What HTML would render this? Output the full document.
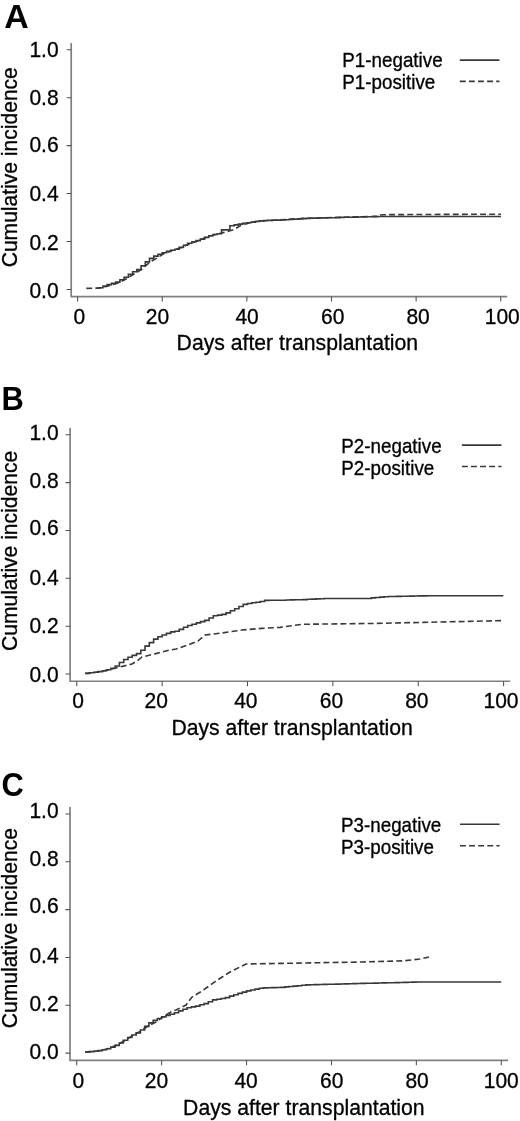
<!DOCTYPE html>
<html lang="en">
<head>
<meta charset="utf-8">
<title>Cumulative incidence</title>
<style>
html,body{margin:0;padding:0;background:#fff;}
body{width:520px;height:1121px;overflow:hidden;}
svg{display:block;}
text{font-family:"Liberation Sans",sans-serif;fill:#000;stroke:#000;stroke-width:0.3px;}
.pl{font-size:32px;font-weight:bold;fill:#000;stroke:none;}
.t{font-size:21px;}
.lg{font-size:18.8px;}
.ax{fill:none;stroke:#808080;stroke-width:1.7;}
.tk{fill:none;stroke:#505050;stroke-width:1.05;}
.cv{fill:none;stroke:#383838;stroke-width:1.6;stroke-linejoin:miter;}
.ds{stroke-dasharray:5.9 3.2;}
</style>
</head>
<body>
<svg width="520" height="1121" viewBox="0 0 520 1121">
<rect width="520" height="1121" fill="#fff"/>
<text transform="translate(4.20 28.10) scale(1.060 1.042)" class="pl">A</text>
<path d="M71.20 43.10V296.60H507.20" class="ax"/>
<path d="M71.20 49.75h-4.6M77.60 296.60v4.9M71.20 97.68h-4.6M162.23 296.60v4.9M71.20 145.61h-4.6M246.86 296.60v4.9M71.20 193.54h-4.6M331.49 296.60v4.9M71.20 241.47h-4.6M416.12 296.60v4.9M71.20 289.40h-4.6M500.75 296.60v4.9" class="tk"/>
<text transform="translate(58.60 56.70) scale(1.000 1.042)" class="t" text-anchor="end">1.0</text>
<text transform="translate(58.60 104.70) scale(1.000 1.042)" class="t" text-anchor="end">0.8</text>
<text transform="translate(58.60 151.70) scale(1.000 1.042)" class="t" text-anchor="end">0.6</text>
<text transform="translate(58.60 201.40) scale(1.000 1.042)" class="t" text-anchor="end">0.4</text>
<text transform="translate(58.60 249.60) scale(1.000 1.042)" class="t" text-anchor="end">0.2</text>
<text transform="translate(58.60 298.00) scale(1.000 1.042)" class="t" text-anchor="end">0.0</text>
<text transform="translate(79.25 323.90) scale(1.000 1.042)" class="t" text-anchor="middle">0</text>
<text transform="translate(157.50 323.90) scale(1.000 1.042)" class="t" text-anchor="middle">20</text>
<text transform="translate(247.10 323.90) scale(1.000 1.042)" class="t" text-anchor="middle">40</text>
<text transform="translate(332.75 323.90) scale(1.000 1.042)" class="t" text-anchor="middle">60</text>
<text transform="translate(418.10 323.90) scale(1.000 1.042)" class="t" text-anchor="middle">80</text>
<text transform="translate(502.25 323.90) scale(1.000 1.042)" class="t" text-anchor="middle">100</text>
<text transform="translate(176.60 349.70) scale(1.010 1.042)" class="t">Days after transplantation</text>
<text transform="translate(16.90 267.30) rotate(-90) scale(1.003 1.042)" class="t">Cumulative incidence</text>
<text transform="translate(342.30 66.85) scale(1.000 1.042)" class="lg">P1-negative</text>
<text transform="translate(342.30 89.15) scale(1.000 1.042)" class="lg">P1-positive</text>
<path d="M459.8 60.10h39.6" class="cv"/>
<path d="M459.8 81.40h39.6" class="cv ds"/>
<path d="M97.0 288.3H98.8V287.7H103.0V286.1H107.2V284.6H111.5V283.4H115.7V282.1H119.9V279.8H124.1V277.2H128.4V274.2H132.6V271.7H136.8V269.6H141.1V265.9H145.3V261.9H149.5V258.4H153.8V256.1H158.0V254.3H162.2V252.7H166.5V251.4H170.7V250.3H174.9V249.3H179.2V247.4H183.4V245.3H187.6V243.2H191.9V241.8H196.1V240.6H200.3V239.1H204.5V237.4H208.8V235.8H213.0V234.5H217.2V233.8H221.5V229.9H225.7H229.9V225.8H234.2V224.9H238.4V224.1H242.6V223.4H246.9V222.7H251.1V222.1H255.3V221.5H259.6V220.9H263.8V220.5H268.0V220.4H272.2V220.3H276.5V220.1H280.7V220.0H284.9V219.7H289.2V219.4H293.4V219.2H297.6V218.9H301.9V218.6H306.1V218.4H310.3V218.2H314.6V218.1H318.8V218.0H323.0V217.9H327.3V217.8H331.5V217.7H335.7V217.6H340.0V217.4H344.2V217.3H348.4V217.2H352.6V217.1H356.9V217.0H361.1V216.9H365.3V216.8H369.6V216.7H373.8V216.6H378.0V216.5H382.3H386.5H390.7H395.0H399.2H403.4H407.7H411.9H416.1H420.4H424.6H428.8H433.0H437.3H441.5H445.7H450.0H454.2H458.4H462.7H466.9H471.1H475.4H479.6H483.8H488.1H492.3H496.5H501.0" class="cv"/>
<path d="M86.3 288.4L100.0 288.0L108.0 286.0L118.0 283.0L126.0 279.0L134.0 274.0L142.0 269.0L150.0 262.0L157.0 258.0L164.0 253.5L172.0 250.5L180.0 248.0L190.0 243.5L200.0 240.0L204.0 238.3L215.0 234.6L224.0 232.4L233.5 229.8L241.0 225.2L248.0 223.2L256.0 221.5L270.0 220.4L307.0 218.2L376.0 216.4L382.0 214.7L440.0 214.4L501.0 214.2" class="cv ds"/>
<text transform="translate(1.50 409.50) scale(0.965 1.042)" class="pl">B</text>
<path d="M70.10 428.00V681.25H510.30" class="ax"/>
<path d="M70.10 434.75h-4.6M76.75 681.25v4.9M70.10 482.60h-4.6M162.12 681.25v4.9M70.10 530.45h-4.6M247.49 681.25v4.9M70.10 578.30h-4.6M332.86 681.25v4.9M70.10 626.15h-4.6M418.23 681.25v4.9M70.10 674.00h-4.6M503.60 681.25v4.9" class="tk"/>
<text transform="translate(58.60 440.40) scale(1.000 1.042)" class="t" text-anchor="end">1.0</text>
<text transform="translate(58.60 488.40) scale(1.000 1.042)" class="t" text-anchor="end">0.8</text>
<text transform="translate(58.60 535.40) scale(1.000 1.042)" class="t" text-anchor="end">0.6</text>
<text transform="translate(58.60 585.10) scale(1.000 1.042)" class="t" text-anchor="end">0.4</text>
<text transform="translate(58.60 633.30) scale(1.000 1.042)" class="t" text-anchor="end">0.2</text>
<text transform="translate(58.60 681.70) scale(1.000 1.042)" class="t" text-anchor="end">0.0</text>
<text transform="translate(78.00 707.90) scale(1.000 1.042)" class="t" text-anchor="middle">0</text>
<text transform="translate(156.25 707.90) scale(1.000 1.042)" class="t" text-anchor="middle">20</text>
<text transform="translate(245.85 707.90) scale(1.000 1.042)" class="t" text-anchor="middle">40</text>
<text transform="translate(331.50 707.90) scale(1.000 1.042)" class="t" text-anchor="middle">60</text>
<text transform="translate(416.85 707.90) scale(1.000 1.042)" class="t" text-anchor="middle">80</text>
<text transform="translate(501.00 707.90) scale(1.000 1.042)" class="t" text-anchor="middle">100</text>
<text transform="translate(171.40 735.00) scale(1.010 1.042)" class="t">Days after transplantation</text>
<text transform="translate(16.90 651.00) rotate(-90) scale(1.003 1.042)" class="t">Cumulative incidence</text>
<text transform="translate(341.30 452.80) scale(1.000 1.042)" class="lg">P2-negative</text>
<text transform="translate(341.30 475.00) scale(1.000 1.042)" class="lg">P2-positive</text>
<path d="M461.9 445.10h39.6" class="cv"/>
<path d="M461.9 466.50h39.6" class="cv ds"/>
<path d="M85.0 673.4H89.6V672.8H93.8V672.3H98.1V671.6H102.4V670.7H106.6V669.8H110.9V668.2H115.2V666.0H119.4V662.5H123.7V659.5H128.0V657.2H132.2V655.4H136.5V653.6H140.8V650.2H145.0V646.1H149.3V642.6H153.6V639.1H157.9V636.8H162.1V635.0H166.4V633.4H170.7V631.9H174.9V631.2H179.2V629.4H183.5V627.3H187.7V625.5H192.0V624.2H196.3V622.9H200.5V621.6H204.8V620.4H209.1V618.0H213.3V615.8H217.6V615.1H221.9V614.4H226.1V612.9H230.4V610.8H234.7V608.7H239.0V606.5H243.2V604.4H247.5V603.5H251.8V602.8H256.0V602.2H260.3V601.5H264.6V600.4H268.8V600.3H273.1V600.3H277.4V600.2H281.6V600.2H285.9V600.0H290.2V599.9H294.4V599.8H298.7V599.7H303.0V599.6H307.2V599.3H311.5V599.1H315.8V598.9H320.1V598.7H324.3V598.5H328.6H332.9H337.1H341.4H345.7H349.9H354.2H358.5H362.7H367.0H371.3V597.9H375.5V597.5H379.8V597.1H384.1V596.7H388.4V596.5H392.6V596.5H396.9V596.4H401.2V596.3H405.4V596.2H409.7V596.1H414.0V596.0H418.2V595.9H422.5V595.9H426.8V595.8H431.0V595.7H435.3H439.6H443.8H448.1H452.4H456.6H460.9H465.2H469.5H473.7H478.0H482.3H486.5H490.8H495.1H499.3H503.3" class="cv"/>
<path d="M85.0 673.5L96.0 672.2L106.0 670.4L116.0 668.0L132.0 664.0L137.0 661.0L142.0 657.0L156.0 653.6L170.0 650.0L176.0 649.0L188.0 645.0L198.0 641.0L205.0 635.0L222.0 633.0L242.0 630.0L262.0 628.4L280.0 627.4L302.0 624.3L376.0 623.4L440.0 622.0L503.3 620.6" class="cv ds"/>
<text transform="translate(1.50 795.70) scale(0.965 1.042)" class="pl">C</text>
<path d="M70.00 807.00V1060.30H508.00" class="ax"/>
<path d="M70.00 814.00h-4.6M76.75 1060.30v4.9M70.00 861.82h-4.6M161.65 1060.30v4.9M70.00 909.64h-4.6M246.55 1060.30v4.9M70.00 957.46h-4.6M331.45 1060.30v4.9M70.00 1005.28h-4.6M416.35 1060.30v4.9M70.00 1053.10h-4.6M501.25 1060.30v4.9" class="tk"/>
<text transform="translate(58.60 817.90) scale(1.000 1.042)" class="t" text-anchor="end">1.0</text>
<text transform="translate(58.60 865.90) scale(1.000 1.042)" class="t" text-anchor="end">0.8</text>
<text transform="translate(58.60 912.90) scale(1.000 1.042)" class="t" text-anchor="end">0.6</text>
<text transform="translate(58.60 962.60) scale(1.000 1.042)" class="t" text-anchor="end">0.4</text>
<text transform="translate(58.60 1010.80) scale(1.000 1.042)" class="t" text-anchor="end">0.2</text>
<text transform="translate(58.60 1059.20) scale(1.000 1.042)" class="t" text-anchor="end">0.0</text>
<text transform="translate(78.25 1088.40) scale(1.000 1.042)" class="t" text-anchor="middle">0</text>
<text transform="translate(156.50 1088.40) scale(1.000 1.042)" class="t" text-anchor="middle">20</text>
<text transform="translate(246.10 1088.40) scale(1.000 1.042)" class="t" text-anchor="middle">40</text>
<text transform="translate(331.75 1088.40) scale(1.000 1.042)" class="t" text-anchor="middle">60</text>
<text transform="translate(417.10 1088.40) scale(1.000 1.042)" class="t" text-anchor="middle">80</text>
<text transform="translate(501.25 1088.40) scale(1.000 1.042)" class="t" text-anchor="middle">100</text>
<text transform="translate(183.10 1114.75) scale(1.010 1.042)" class="t">Days after transplantation</text>
<text transform="translate(16.90 1028.20) rotate(-90) scale(1.003 1.042)" class="t">Cumulative incidence</text>
<text transform="translate(341.00 831.80) scale(1.000 1.042)" class="lg">P3-negative</text>
<text transform="translate(341.00 853.80) scale(1.000 1.042)" class="lg">P3-positive</text>
<path d="M460.0 824.30h39.6" class="cv"/>
<path d="M460.0 845.70h39.6" class="cv ds"/>
<path d="M85.0 1052.0H89.5V1051.6H93.7V1051.2H98.0V1050.6H102.2V1049.8H106.5V1048.8H110.7V1047.1H115.0V1045.4H119.2V1043.0H123.4V1040.3H127.7V1037.5H131.9V1035.0H136.2V1032.9H140.4V1030.0H144.7V1026.4H148.9V1022.9H153.2V1020.4H157.4V1018.5H161.7V1016.9H165.9V1015.4H170.1V1014.2H174.4V1012.8H178.6V1010.9H182.9V1009.2H187.1V1007.8H191.4V1006.9H195.6V1006.1H199.9V1004.8H204.1V1003.6H208.3V1001.8H212.6V999.9H216.8V999.2H221.1V998.5H225.3V997.6H229.6V996.1H233.8V994.7H238.1V993.4H242.3V992.1H246.6V990.9H250.8V990.0H255.0V989.1H259.3V988.2H263.5V987.9H267.8V987.8H272.0V987.6H276.3V987.5H280.5V987.4H284.8V986.9H289.0V986.5H293.2V986.1H297.5V985.7H301.7V985.3H306.0V984.9H310.2V984.7H314.5V984.6H318.7V984.5H323.0V984.4H327.2V984.3H331.5V984.2H335.7V984.1H339.9V984.0H344.2V983.9H348.4V983.7H352.7V983.6H356.9V983.5H361.2V983.4H365.4V983.3H369.7V983.2H373.9V983.1H378.1V983.0H382.4V982.9H386.6V982.8H390.9V982.7H395.1V982.6H399.4V982.5H403.6V982.4H407.9V982.3H412.1V982.1H416.4V982.0H420.6H424.8H429.1H433.3H437.6H441.8H446.1H450.3H454.6H458.8H463.0H467.3H471.5H475.8H480.0H484.3H488.5H492.8H497.0H501.2" class="cv"/>
<path d="M85.0 1052.2L96.0 1051.2L106.0 1049.2L116.0 1045.5L124.0 1041.0L132.0 1036.0L140.0 1031.5L148.0 1026.0L156.0 1022.0L164.0 1016.0L172.0 1011.5L176.0 1010.0L186.0 1005.0L192.0 997.0L202.0 991.0L216.0 981.0L230.0 972.0L246.0 964.0L280.0 963.4L362.0 962.0L404.0 960.8L420.0 959.0L429.0 957.0" class="cv ds"/>
</svg>
</body>
</html>
